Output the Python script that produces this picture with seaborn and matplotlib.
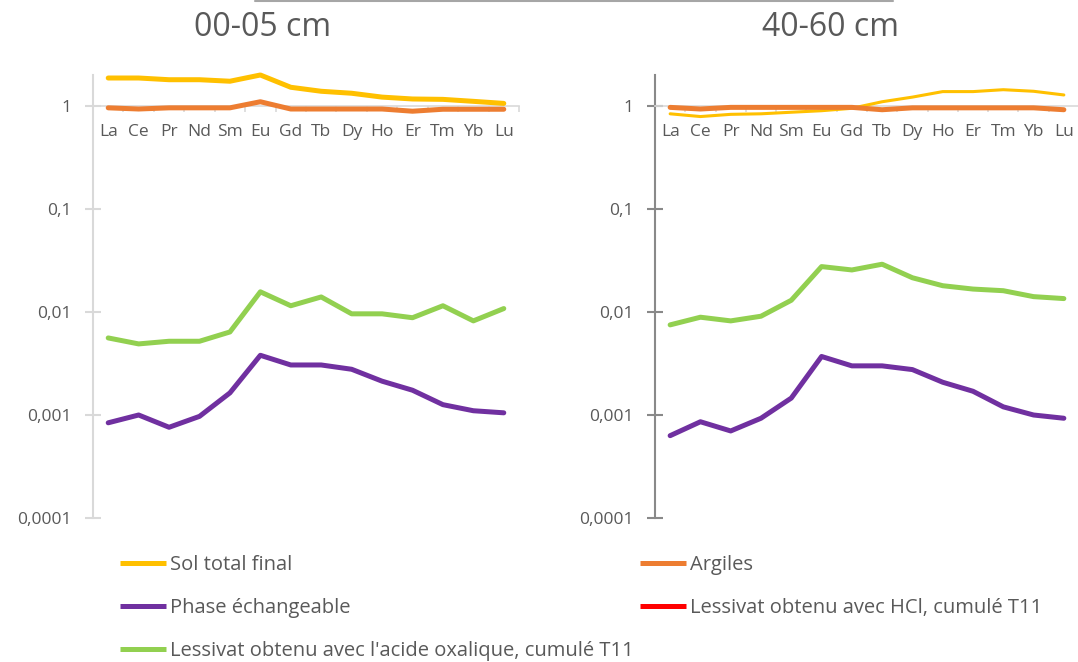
import numpy as np
import pandas as pd
import matplotlib
matplotlib.use("Agg")
import matplotlib.pyplot as plt
import seaborn as sns
from matplotlib.lines import Line2D
from matplotlib.ticker import FixedLocator, FixedFormatter, NullLocator

elements = ['La', 'Ce', 'Pr', 'Nd', 'Sm', 'Eu', 'Gd', 'Tb', 'Dy', 'Ho', 'Er', 'Tm', 'Yb', 'Lu']

# 00-05 cm
sol_0005 = [1.87, 1.87, 1.80, 1.80, 1.74, 2.00, 1.52, 1.39, 1.33, 1.22, 1.17, 1.16, 1.11, 1.06]
argiles_0005 = [0.96, 0.935, 0.96, 0.96, 0.96, 1.10, 0.935, 0.935, 0.935, 0.935, 0.89, 0.93, 0.93, 0.93]
echang_0005 = [0.00084, 0.0010, 0.00076, 0.00097, 0.00164, 0.0038, 0.00306, 0.00306, 0.00278,
               0.00213, 0.00174, 0.00126, 0.0011, 0.00105]
oxal_0005 = [0.0056, 0.0049, 0.0052, 0.0052, 0.0064, 0.0157, 0.0115, 0.0140, 0.0096, 0.0096,
             0.0088, 0.0115, 0.0082, 0.0108]

# 40-60 cm
sol_4060 = [0.84, 0.79, 0.83, 0.84, 0.87, 0.90, 0.95, 1.10, 1.22, 1.38, 1.38, 1.44, 1.39, 1.28]
argiles_4060 = [0.97, 0.935, 0.97, 0.97, 0.97, 0.97, 0.97, 0.92, 0.96, 0.96, 0.96, 0.96, 0.96, 0.92]
echang_4060 = [0.00063, 0.00086, 0.00070, 0.00093, 0.00146, 0.0037, 0.0030, 0.0030, 0.00276,
               0.00208, 0.0017, 0.0012, 0.0010, 0.00093]
oxal_4060 = [0.0075, 0.0089, 0.0082, 0.0091, 0.0130, 0.0276, 0.0256, 0.0291, 0.0215, 0.0180,
             0.0167, 0.0161, 0.0141, 0.0135]

series_names = ['Sol total final', 'Argiles', 'Phase échangeable',
                'Lessivat obtenu avec HCl, cumulé T11',
                "Lessivat obtenu avec l'acide oxalique, cumulé T11"]
colors = {'Sol total final': '#FFC000', 'Argiles': '#ED7D31', 'Phase échangeable': '#7030A0',
          'Lessivat obtenu avec HCl, cumulé T11': '#FF0000',
          "Lessivat obtenu avec l'acide oxalique, cumulé T11": '#92D050'}

ytick_vals = [0.0001, 0.001, 0.01, 0.1, 1]
ytick_labels = ['0,0001', '0,001', '0,01', '0,1', '1']
titles = ['00-05 cm', '40-60 cm']

sns.set_theme(style='white')
plt.rcParams['font.family'] = ['Open Sans', 'DejaVu Sans']

W, H = 1078, 662
fig = plt.figure(figsize=(W / 100, H / 100), dpi=100)


def px_axes(x0, x1, ytop, ybot):
    return fig.add_axes([x0 / W, 1 - ybot / H, (x1 - x0) / W, (ybot - ytop) / H])


ax1 = px_axes(93, 519, 75, 518)
ax2 = px_axes(655, 1079, 75, 518)

panels = [
    (ax1, {'Sol total final': sol_0005, 'Argiles': argiles_0005,
           'Phase échangeable': echang_0005,
           "Lessivat obtenu avec l'acide oxalique, cumulé T11": oxal_0005},
     {'Sol total final': 3.6}, '#D9D9D9'),
    (ax2, {'Sol total final': sol_4060, 'Argiles': argiles_4060,
           'Phase échangeable': echang_4060,
           "Lessivat obtenu avec l'acide oxalique, cumulé T11": oxal_4060},
     {'Sol total final': 2.2}, '#898989'),
]

for ax, data, lw_over, spcol in panels:
    for name, vals in data.items():
        df = pd.DataFrame({'element': elements, 'value': vals})
        sns.lineplot(data=df, x='element', y='value', ax=ax, color=colors[name],
                     linewidth=lw_over.get(name, 3.6), sort=False, errorbar=None,
                     solid_capstyle='round', solid_joinstyle='round', zorder=3, clip_on=False)
    ax.set_yscale('log')
    ax.set_ylim(1e-4, 2.0)
    ax.set_xlim(-0.5, 13.5)
    ax.set_xlabel('')
    ax.set_ylabel('')
    ax.yaxis.set_major_locator(FixedLocator(ytick_vals))
    ax.yaxis.set_major_formatter(FixedFormatter(ytick_labels))
    ax.yaxis.set_minor_locator(NullLocator())
    ax.xaxis.set_minor_locator(FixedLocator(np.arange(-0.5, 14, 1)))
    for s in ['top', 'right']:
        ax.spines[s].set_visible(False)
    ax.spines['bottom'].set_position(('data', 1))
    ax.spines['bottom'].set_color('#D9D9D9')
    ax.spines['bottom'].set_linewidth(1.2)
    ax.spines['left'].set_color(spcol)
    ax.spines['left'].set_linewidth(1.5)
    ax.tick_params(axis='y', which='major', direction='inout', length=11, width=1.5,
                   color=spcol, labelsize=12.5, labelcolor='#595959', pad=10, left=True)
    ax.tick_params(axis='x', which='major', length=0, labelsize=12.5,
                   labelcolor='#595959', pad=13)
    ax.tick_params(axis='x', which='minor', direction='out', length=4, width=1.2,
                   color='#D9D9D9', bottom=True)
    ax.grid(False)
    ax.patch.set_alpha(0)

fig.text(263 / W, 1 - 27 / H, titles[0], ha='center', va='center', fontsize=23, color='#595959')
fig.text(830 / W, 1 - 27 / H, titles[1], ha='center', va='center', fontsize=23, color='#595959')

fig.add_artist(Line2D([255 / W, 893 / W], [1 - 1 / H, 1 - 1 / H], color='#A6A6A6', lw=1.5,
                      transform=fig.transFigure))

def handle(name):
    return Line2D([], [], color=colors[name], lw=3.6, solid_capstyle='butt')

col1 = [series_names[0], series_names[2], series_names[4]]
col2 = [series_names[1], series_names[3]]
leg_kw = dict(frameon=False, fontsize=14.5, handlelength=2.3, handletextpad=0.2,
              labelspacing=1.14, borderpad=0, borderaxespad=0, loc='upper left',
              labelcolor='#595959')
fig.legend([handle(n) for n in col1], col1, bbox_to_anchor=(120 / W, 1 - 555 / H), **leg_kw)
fig.legend([handle(n) for n in col2], col2, bbox_to_anchor=(640 / W, 1 - 555 / H), **leg_kw)

fig.savefig('out.png', dpi=100)
